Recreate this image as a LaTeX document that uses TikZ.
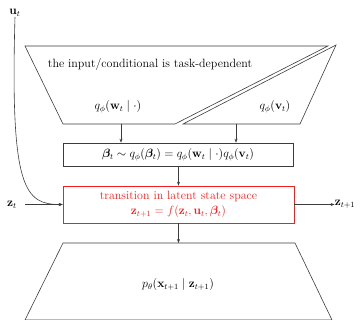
\documentclass[tikz,border=0pt]{standalone}
\usepackage{amsmath,bm}
\usetikzlibrary{arrows.meta}
\definecolor{lred}{RGB}{245,30,30}
\definecolor{lgray}{RGB}{60,60,60}
\begin{document}
\begin{tikzpicture}[x=1pt,y=-1pt,
  every node/.style={font=\fontsize{12}{14}\selectfont, inner sep=0pt},
  shape line/.style={draw=lgray, line width=0.6pt},
  conn/.style={draw=lgray, line width=0.6pt, -{Stealth[length=4pt,width=3pt]}},
  plainbox/.style={draw=lgray, line width=0.6pt, minimum width=230pt, minimum height=23pt},
  redbox/.style={draw=lred, line width=0.6pt, minimum width=231pt, minimum height=37pt, text=lred, align=center}]
\useasboundingbox (0,0) rectangle (362,320);
% top-left trapezoid
\coordinate (a1) at (25,46);
\coordinate (a2) at (328,46);
\coordinate (a3) at (175,124);
\coordinate (a4) at (63,124);
\draw[shape line] (a1) -- (a2) -- (a3) -- (a4) -- cycle;
% right triangle
\coordinate (b1) at (336,45);
\coordinate (b2) at (300,124);
\coordinate (b3) at (183,124);
\draw[shape line] (b1) -- (b2) -- (b3) -- cycle;
\node (task) at (150,65) {the input/conditional is task-dependent};
\node (qw) at (118,107) {$q_\phi(\mathbf{w}_t\mid\cdot)$};
\node (qv) at (275,107) {$q_\phi(\mathbf{v}_t)$};
\coordinate (qwout) at (121,124);
\coordinate (qvout) at (236,124);
% beta box
\node[plainbox] (beta) at (178,154.5) {$\bm{\beta}_t\sim q_\phi(\bm{\beta}_t)=q_\phi(\mathbf{w}_t\mid\cdot)q_\phi(\mathbf{v}_t)$};
\draw[conn] (qwout) -- (qwout |- beta.north);
\draw[conn] (qvout) -- (qvout |- beta.north);
% red box
\node[redbox] (trans) at (178.5,204.5) {transition in latent state space\\[1pt] $\mathbf{z}_{t+1}=f(\mathbf{z}_t,\mathbf{u}_t,\bm{\beta}_t)$};
\draw[conn] (beta.south -| trans.north) -- (trans.north);
% inputs
\node (ut) at (15,13) {$\mathbf{u}_t$};
\node (zt) at (12,204.5) {$\mathbf{z}_t$};
\node (zt1) at (345,204.5) {$\mathbf{z}_{t+1}$};
\draw[conn] (ut.south) .. controls (10,190) and (25,204.5) .. (trans.west);
\draw[conn] (25,204.5) -- (trans.west);
\draw[conn] (trans.east) -- (zt1.west);
% bottom trapezoid
\coordinate (c1) at (63,243);
\coordinate (c2) at (295,243);
\coordinate (c3) at (332,320);
\coordinate (c4) at (25,320);
\draw[shape line] (c1) -- (c2) -- (c3) -- (c4) -- cycle;
\draw[conn] (trans.south) -- (trans.south |- c1);
\node (px) at (178,285) {$p_\theta(\mathbf{x}_{t+1}\mid\mathbf{z}_{t+1})$};
\end{tikzpicture}
\end{document}
